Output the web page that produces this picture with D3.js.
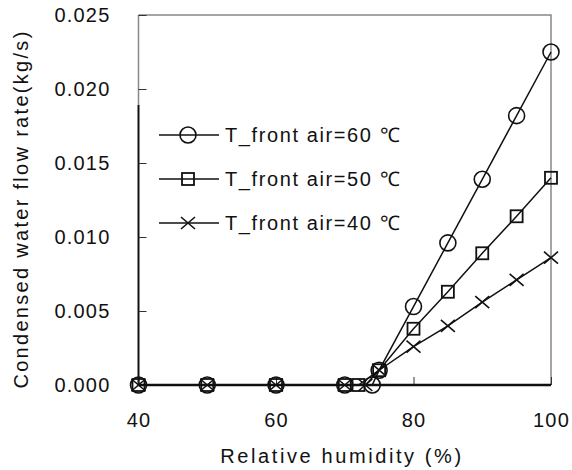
<!DOCTYPE html>
<html>
<head>
<meta charset="utf-8">
<script src="https://cdn.jsdelivr.net/npm/d3@7"></script>
<style>
  body { margin: 0; background: #fff; }
  text { font-family: "Liberation Sans", Arial, sans-serif; fill: #111; }
</style>
</head>
<body>
<div id="chart"></div>
<script>
// humidity (%) values for each series
var rh60 = [40, 50, 60, 70, 74, 75, 80, 85, 90, 95, 100];
var flow60 = [0, 0, 0, 0, 0, 0.001, 0.0053, 0.0096, 0.0139, 0.0182, 0.0225];
var rh50 = [40, 50, 60, 70, 72, 75, 80, 85, 90, 95, 100];
var flow50 = [0, 0, 0, 0, 0, 0.001, 0.0038, 0.0063, 0.0089, 0.0114, 0.0140];
var rh40 = [40, 50, 60, 70, 73, 75, 80, 85, 90, 95, 100];
var flow40 = [0, 0, 0, 0, 0, 0.001, 0.0026, 0.0040, 0.0056, 0.0071, 0.0086];
var seriesNames = ["T_front air=60 \u2103", "T_front air=50 \u2103", "T_front air=40 \u2103"];
var xTicks = [40, 60, 80, 100];
var yTicks = [0, 0.005, 0.010, 0.015, 0.020, 0.025];

var width = 572, height = 470;
var plotL = 138.5, plotR = 551, plotT = 15, plotB = 385;

var svg = d3.select("#chart").append("svg")
    .attr("width", width)
    .attr("height", height);

var x = d3.scaleLinear().domain([40, 100]).range([plotL, plotR]);
var y = d3.scaleLinear().domain([0, 0.025]).range([plotB, plotT]);

// grey frame (top + right)
svg.append("path")
    .attr("d", "M" + plotL + "," + plotT + "H" + plotR + "V" + plotB)
    .attr("fill", "none")
    .attr("stroke", "#888")
    .attr("stroke-width", 1.5);
svg.append("line")
    .attr("x1", plotL).attr("x2", plotL)
    .attr("y1", plotT).attr("y2", 105)
    .attr("stroke", "#888").attr("stroke-width", 1.5);
svg.append("line")
    .attr("x1", plotL).attr("x2", plotL)
    .attr("y1", 105).attr("y2", plotB)
    .attr("stroke", "#111").attr("stroke-width", 2);

// axes
var yAxis = svg.append("g")
    .attr("transform", "translate(" + plotL + ",0)")
    .call(d3.axisLeft(y).tickValues(yTicks).tickFormat(d3.format(".3f"))
        .tickSizeInner(-8).tickSizeOuter(0).tickPadding(28));
yAxis.select(".domain").remove();
yAxis.selectAll("line").attr("stroke", "#333").attr("stroke-width", 1);
yAxis.selectAll("text").attr("font-size", 20).attr("letter-spacing", 1.2)
    .attr("font-family", "Liberation Sans, Arial, sans-serif").attr("fill", "#111");

var xAxis = svg.append("g")
    .attr("transform", "translate(0," + plotB + ")")
    .call(d3.axisBottom(x).tickValues(xTicks)
        .tickSizeInner(-8).tickSizeOuter(0).tickPadding(28));
xAxis.select(".domain").remove();
xAxis.selectAll("line").attr("stroke", "#333").attr("stroke-width", 1);
xAxis.selectAll("text").attr("font-size", 20).attr("letter-spacing", 1.2)
    .attr("font-family", "Liberation Sans, Arial, sans-serif").attr("fill", "#111");

svg.append("line")
    .attr("x1", plotL - 1).attr("x2", plotR)
    .attr("y1", plotB).attr("y2", plotB)
    .attr("stroke", "#111").attr("stroke-width", 2.5);

// axis titles
svg.append("text")
    .attr("x", 342).attr("y", 463)
    .attr("text-anchor", "middle")
    .attr("font-size", 20)
    .attr("letter-spacing", 2.6)
    .text("Relative humidity (%)");

svg.append("text")
    .attr("transform", "translate(28,209) rotate(-90)")
    .attr("text-anchor", "middle")
    .attr("font-size", 20)
    .attr("letter-spacing", 2.3)
    .text("Condensed water flow rate(kg/s)");

// markers
function drawMarker(g, type, cx, cy) {
    if (type === "circle") {
        g.append("circle").attr("cx", cx).attr("cy", cy).attr("r", 8)
            .attr("fill", "none").attr("stroke", "#111").attr("stroke-width", 1.6);
    } else if (type === "square") {
        g.append("rect").attr("x", cx - 6).attr("y", cy - 6)
            .attr("width", 12).attr("height", 12)
            .attr("fill", "none").attr("stroke", "#111").attr("stroke-width", 1.8);
    } else {
        g.append("path")
            .attr("d", "M" + (cx - 7) + "," + (cy - 6) + "L" + (cx + 7) + "," + (cy + 6) +
                "M" + (cx - 7) + "," + (cy + 6) + "L" + (cx + 7) + "," + (cy - 6))
            .attr("stroke", "#111").attr("stroke-width", 1.6);
    }
}

var series = [
    {rh: rh60, flow: flow60, marker: "circle"},
    {rh: rh50, flow: flow50, marker: "square"},
    {rh: rh40, flow: flow40, marker: "cross"}
];

var line = d3.line()
    .x(function(d) { return x(d[0]); })
    .y(function(d) { return y(d[1]); });

series.forEach(function(s) {
    var pts = s.rh.map(function(r, i) { return [r, s.flow[i]]; });
    svg.append("path")
        .datum(pts)
        .attr("d", line)
        .attr("fill", "none")
        .attr("stroke", "#111")
        .attr("stroke-width", 1.5);
    var g = svg.append("g");
    pts.forEach(function(p) { drawMarker(g, s.marker, x(p[0]), y(p[1])); });
});

// legend
var legendY = [135, 179, 223];
series.forEach(function(s, i) {
    var g = svg.append("g");
    g.append("line")
        .attr("x1", 159).attr("x2", 219)
        .attr("y1", legendY[i]).attr("y2", legendY[i])
        .attr("stroke", "#111").attr("stroke-width", 1.6);
    drawMarker(g, s.marker, 188, legendY[i]);
    g.append("text")
        .attr("x", 225).attr("y", legendY[i])
        .attr("dy", "0.35em")
        .attr("font-size", 20)
        .attr("letter-spacing", 1.6)
        .text(seriesNames[i]);
});
</script>
</body>
</html>
